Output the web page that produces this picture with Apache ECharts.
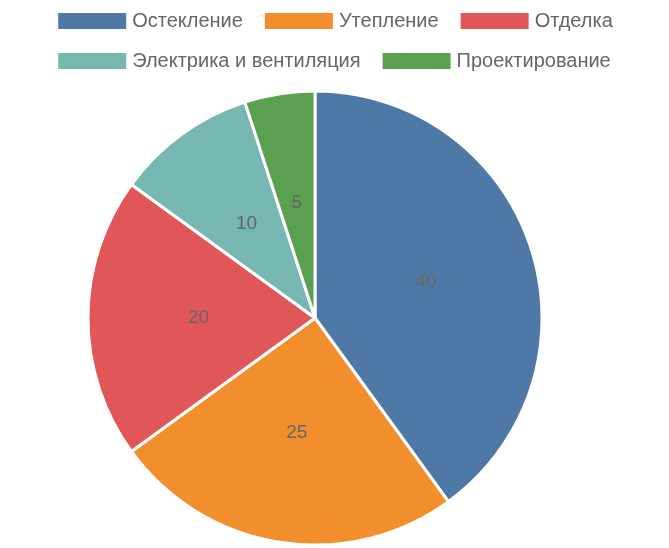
<!DOCTYPE html>
<html><head><meta charset="utf-8">
<script src="https://cdn.jsdelivr.net/npm/echarts@6/dist/echarts.min.js"></script>
<style>html,body{margin:0;padding:0;background:#fff}#c{width:669px;height:548px}</style>
</head><body><div id="c"></div>
<script>
const categories = ['Остекление', 'Утепление', 'Отделка', 'Электрика и вентиляция', 'Проектирование'];
const values = [40, 25, 20, 10, 5];
const colors = ['#4e79a7', '#f28e2b', '#e15759', '#76b7b2', '#59a14f'];

const chart = echarts.init(document.getElementById('c'));
chart.setOption({
  animation: false,
  color: colors,
  legend: {
    top: 6, left: 'center', width: 640,
    itemWidth: 70, itemHeight: 18, itemGap: 20,
    icon: 'rect',
    textStyle: { fontSize: 20, color: '#666', fontFamily: 'Liberation Sans' },
    data: categories
  },
  series: [{
    type: 'pie',
    center: [315, 318],
    radius: 227,
    startAngle: 90,
    clockwise: true,
    itemStyle: { borderColor: '#fff', borderWidth: 3 },
    label: { position: 'inside', formatter: '{c}', fontSize: 19, color: '#666', fontFamily: 'Liberation Sans' },
    labelLine: { show: false },
    data: categories.map((n, i) => ({ name: n, value: values[i] }))
  }]
});
</script></body></html>
